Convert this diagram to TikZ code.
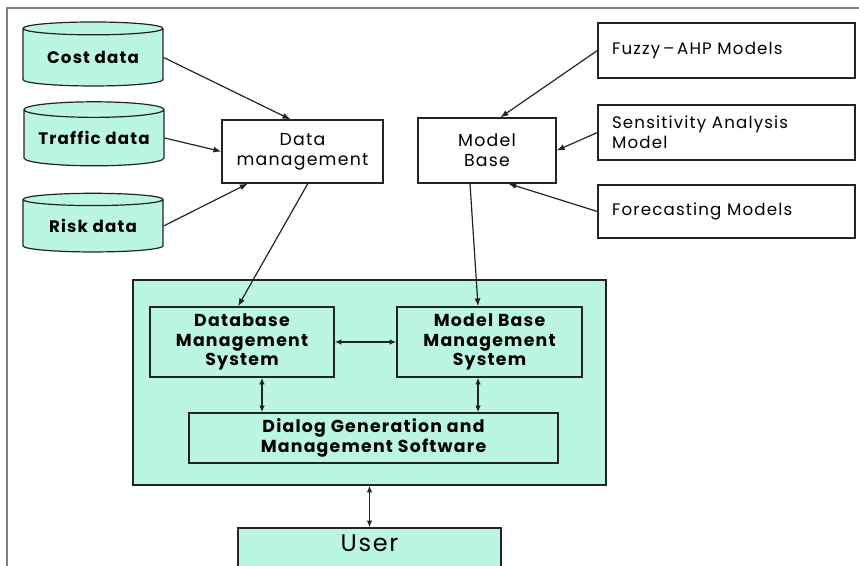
\documentclass[tikz,border=0pt]{standalone}
\usepackage{fontspec}
\setmainfont{Poppins}[LetterSpace=7]
\usetikzlibrary{shapes.geometric,arrows.meta}

\definecolor{mint}{RGB}{186,246,226}
\definecolor{edge}{RGB}{35,35,35}

\tikzset{
  store/.style={cylinder, shape border rotate=90, aspect=0.14, draw=edge, fill=mint, line width=0.9pt,
    minimum width=105pt, minimum height=48pt, inner sep=0pt, font=\fontsize{12.5}{14}\selectfont\bfseries},
  plainbox/.style={draw=edge, fill=white, align=center, inner sep=2pt, line width=0.9pt,
    font=\fontsize{13}{15}\selectfont},
  modelbox/.style={draw=edge, fill=white, align=left, inner xsep=10.5pt, line width=0.9pt,
    text width=171.75pt, minimum height=41.25pt, font=\fontsize{12.5}{15}\selectfont},
  subbox/.style={draw=edge, fill=mint, align=center, line width=0.9pt,
    font=\fontsize{13}{14.5}\selectfont\bfseries},
  oneway/.style={-{Latex[length=6pt,width=4.5pt]}, edge, line width=0.9pt},
  twoway/.style={{Latex[length=5pt,width=4pt]}-{Latex[length=5pt,width=4pt]}, edge, line width=0.9pt}
}

\begin{document}
\begin{tikzpicture}[x=0.75pt, y=-0.75pt]
      \useasboundingbox (0,0) rectangle (859,566);
      \draw[gray, line width=1pt] (7,8) rectangle (900,620);

      % data side
      \node[store] (cost) at (93,57.5) {Cost data};
      \node[store] (traffic) at (94,138) {Traffic data};
      \node[store, minimum height=44pt] (risk) at (93,226) {Risk data};
      \node[plainbox, minimum width=120.75pt, minimum height=47.25pt] (dm) at (302.5,151.5) {Data\\management};

      % model side
      \node[plainbox, minimum width=103.5pt, minimum height=48.75pt] (mb) at (487,150.5) {Model\\Base};
      \node[modelbox] (fuzzy) at (726.5,50.5) {Fuzzy\,--\,AHP Models};
      \node[modelbox] (sens) at (726.5,132.5) {Sensitivity Analysis\\Model};
      \node[modelbox, minimum height=39.75pt] (fore) at (726.5,211.5) {Forecasting Models};

      % dss
      \node[draw=edge, fill=mint, line width=0.9pt, minimum width=354.75pt, minimum height=153.75pt] (dss) at (369.5,382.5) {};
      \node[subbox, minimum width=138pt, minimum height=52.5pt] (dbms) at (242,342) {Database\\Management\\System};
      \node[subbox, minimum width=138.75pt, minimum height=52.5pt] (mbms) at (489.5,342) {Model Base\\Management\\System};
      \node[subbox, minimum width=276.75pt, minimum height=37.5pt] (dialog) at (373.5,438) {Dialog Generation and\\Management Software};
      \node[draw=edge, fill=mint, line width=0.9pt, minimum width=197.25pt, minimum height=39pt,
        text height=11pt, text depth=14.5pt, font=\fontsize{18}{20}\selectfont] (user) at (369.5,554) {User};

      \draw[oneway] (cost.east) -- ([xshift=-9pt]dm.north);
      \draw[oneway] (traffic.east) -- (dm.west);
      \draw[oneway] (risk.east) -- ([xshift=-41pt]dm.south);
      \draw[oneway] ([xshift=4pt]dm.south) -- ([xshift=-3pt]dbms.north);

      \draw[oneway] (fuzzy.west) -- ([xshift=10pt]mb.north);
      \draw[oneway] (sens.west) -- (mb.east);
      \draw[oneway] (fore.west) -- ([xshift=16pt]mb.south);
      \draw[oneway] ([xshift=-12.75pt]mb.south) -- ([xshift=-8.6pt]mbms.north);

      \draw[twoway] (dbms.east) -- (mbms.west);
      \draw[twoway] ([xshift=15pt]dbms.south) -- ([xshift=15pt]dbms.south |- dialog.north);
      \draw[twoway] ([xshift=-8.6pt]mbms.south) -- ([xshift=-8.6pt]mbms.south |- dialog.north);
      \draw[twoway] (dss.south) -- (user.north);
\end{tikzpicture}
\end{document}
